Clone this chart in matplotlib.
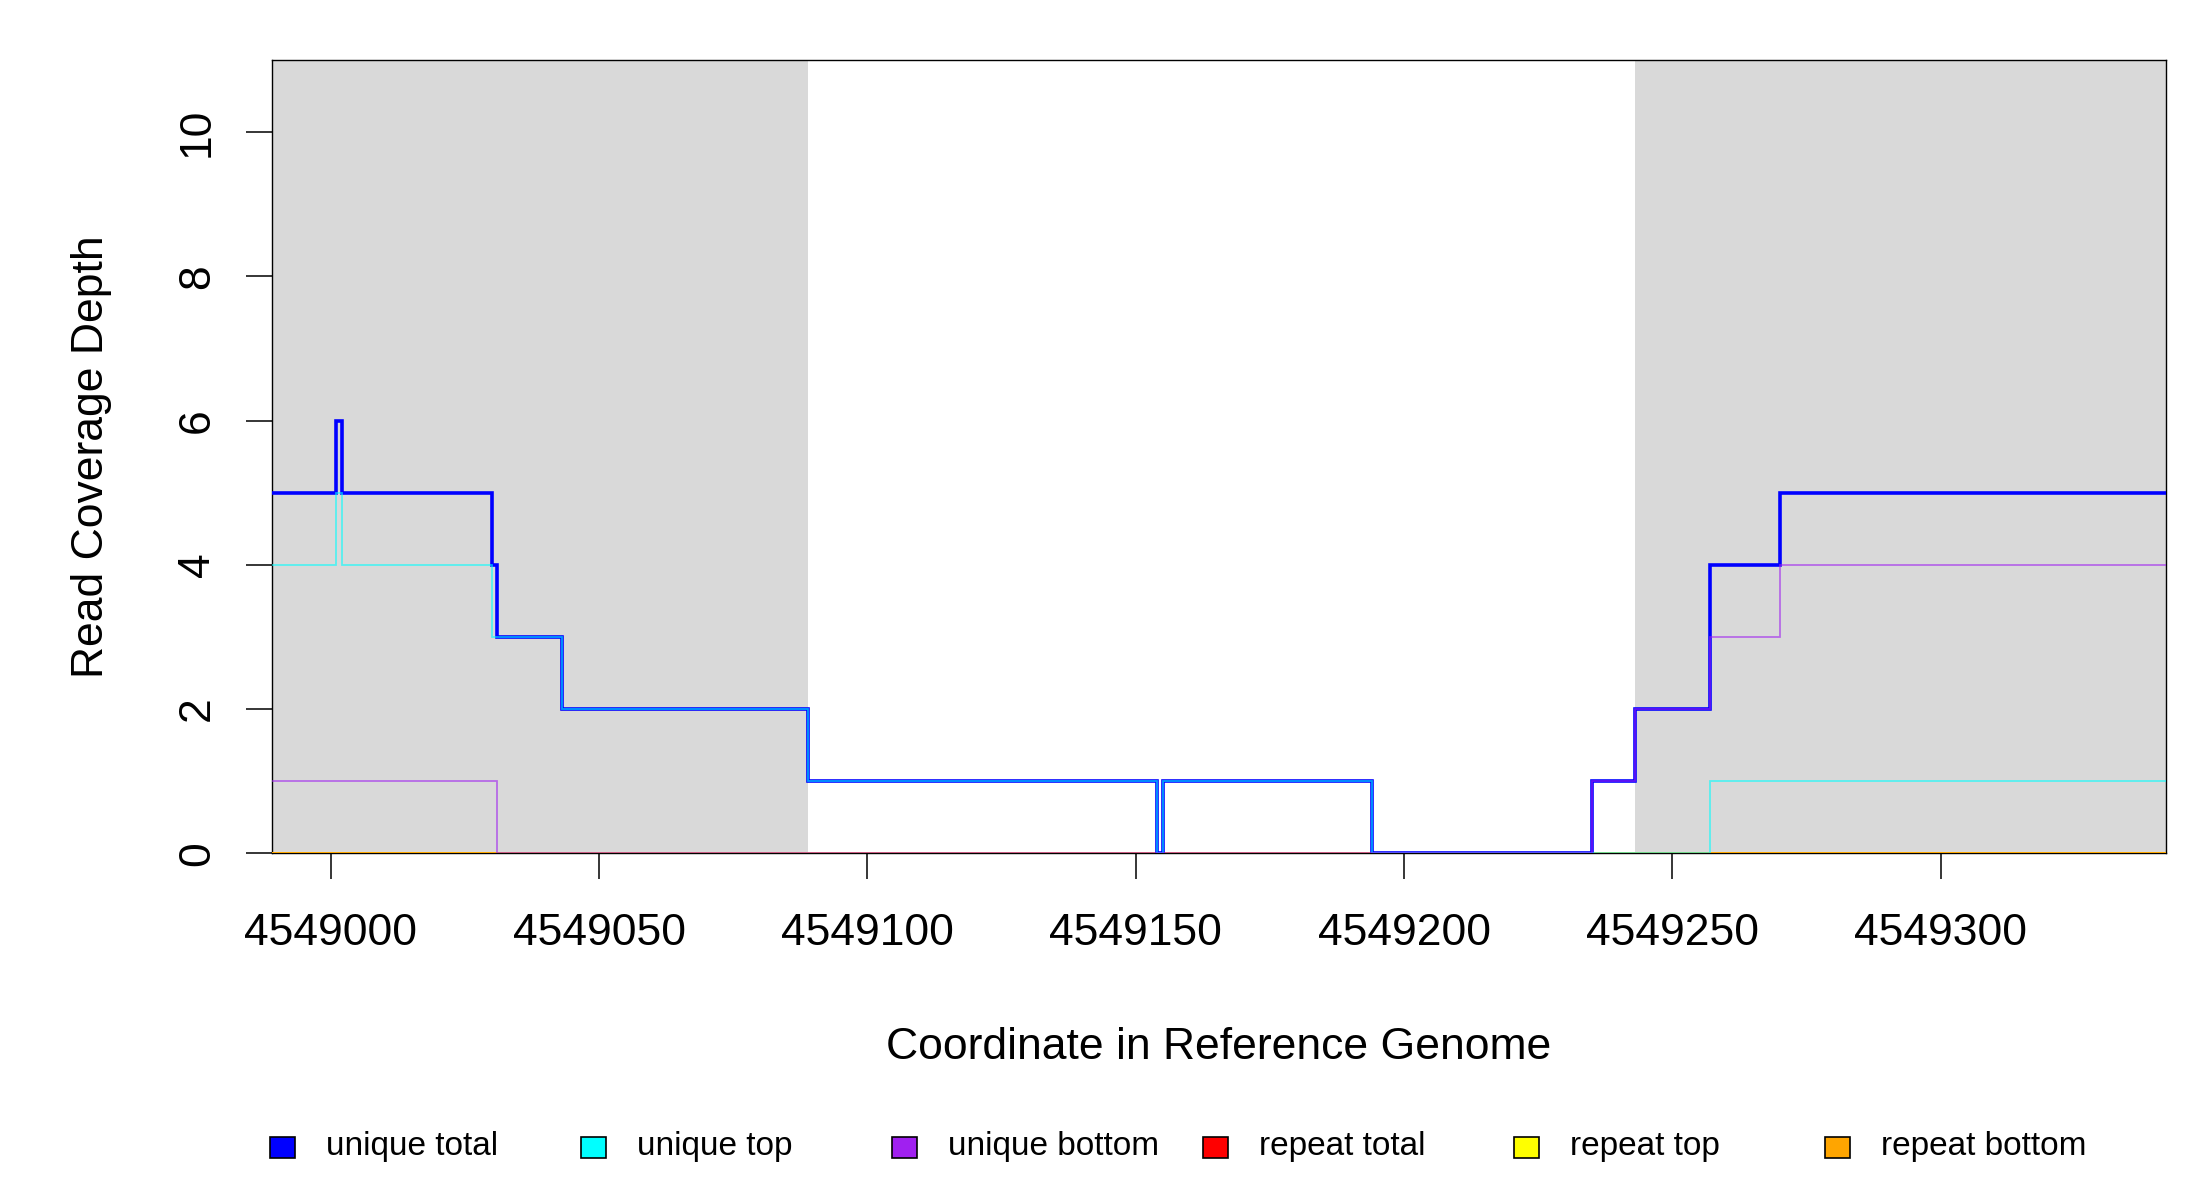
import matplotlib
matplotlib.use("Agg")
import matplotlib.pyplot as plt
from matplotlib.patches import Rectangle
from matplotlib.ticker import ScalarFormatter, FixedLocator

plt.rcParams['font.family'] = ['Liberation Sans', 'DejaVu Sans']

# segment edges (genome coordinates)
edges = [4548989, 4549001, 4549002, 4549030, 4549031, 4549043, 4549089,
         4549154, 4549155, 4549194, 4549235, 4549243, 4549257, 4549270, 4549342]

unique_total  = [5, 6, 5, 4, 3, 2, 1, 0, 1, 0, 1, 2, 4, 5]
unique_top    = [4, 5, 4, 3, 3, 2, 1, 0, 1, 0, 0, 0, 1, 1]
unique_bottom = [1, 1, 1, 1, 0, 0, 0, 0, 0, 0, 1, 2, 3, 4]
repeat_total  = [0, 0, 0, 0, 0, 0, 0, 0, 0, 0, 0, 0, 0, 0]
repeat_top    = [0, 0, 0, 0, 0, 0, 0, 0, 0, 0, 0, 0, 0, 0]
repeat_bottom = [0, 0, 0, 0, 0, 0, 0, 0, 0, 0, 0, 0, 0, 0]

# shaded (flank) regions
shaded = [(4548989, 4549089), (4549243, 4549342)]

legend_labels = ["unique total", "unique top", "unique bottom",
                 "repeat total", "repeat top", "repeat bottom"]
legend_colors = ["#0000FF", "#00FFFF", "#A020F0", "#FF0000", "#FFFF00", "#FFA500"]

xticks = [4549000, 4549050, 4549100, 4549150, 4549200, 4549250, 4549300]
yticks = [0, 2, 4, 6, 8, 10]

fig = plt.figure(figsize=(22, 12), dpi=100)
ax = fig.add_axes([0.1236, 0.289, 0.9845 - 0.1236, 0.95 - 0.289])

for a, b in shaded:
    ax.axvspan(a, b, color="#D9D9D9", lw=0, zorder=0)

# repeats drawn first, then unique series on top
for vals, col in [(repeat_total, "#FF0000"), (repeat_top, "#FFFF00"),
                  (repeat_bottom, "#FFA500")]:
    ax.stairs(vals, edges, baseline=None, color=col, lw=1.4, alpha=1.0, zorder=2)

ax.stairs(unique_total, edges, baseline=None, color="#0000FF", lw=2.6, alpha=1.0, zorder=3)
ax.stairs(unique_top, edges, baseline=None, color="#00FFFF", lw=1.3, alpha=0.6, zorder=4)
ax.stairs(unique_bottom, edges, baseline=None, color="#A020F0", lw=1.3, alpha=0.6, zorder=5)

ax.set_xlim(edges[0], edges[-1])
ax.set_ylim(0, 11)

ax.xaxis.set_major_locator(FixedLocator(xticks))
ax.yaxis.set_major_locator(FixedLocator(yticks))
fmt = ScalarFormatter(useOffset=False)
fmt.set_scientific(False)
ax.xaxis.set_major_formatter(fmt)

ax.tick_params(axis='both', direction='out', length=19, width=1.1,
               labelsize=32, color='black')
ax.tick_params(axis='x', pad=24)
ax.tick_params(axis='y', pad=20)
for lab in ax.get_yticklabels():
    lab.set_rotation(90)
    lab.set_va('center')

for sp in ax.spines.values():
    sp.set_linewidth(1.0)
    sp.set_color('black')
    sp.set_zorder(1)

ax.set_xlabel("Coordinate in Reference Genome", fontsize=32)
ax.set_ylabel("Read Coverage Depth", fontsize=32)
ax.xaxis.set_label_coords(0.5, -0.2194)
ax.yaxis.set_label_coords(-0.0845, 0.5)

# legend row along the bottom
W, H = 2200.0, 1200.0
box_w, box_h = 25, 21
y_c = 1147
x0 = 282
step = 311
for i, (lab, col) in enumerate(zip(legend_labels, legend_colors)):
    cx = x0 + i * step
    fig.patches.append(Rectangle(((cx - box_w / 2) / W, 1 - (y_c + box_h / 2) / H),
                                 box_w / W, box_h / H, transform=fig.transFigure,
                                 facecolor=col, edgecolor='black', lw=1.2))
    fig.text((cx + 44) / W, 1 - y_c / H, lab, fontsize=24,
             ha='left', va='center')

fig.savefig("out.png", dpi=100)
